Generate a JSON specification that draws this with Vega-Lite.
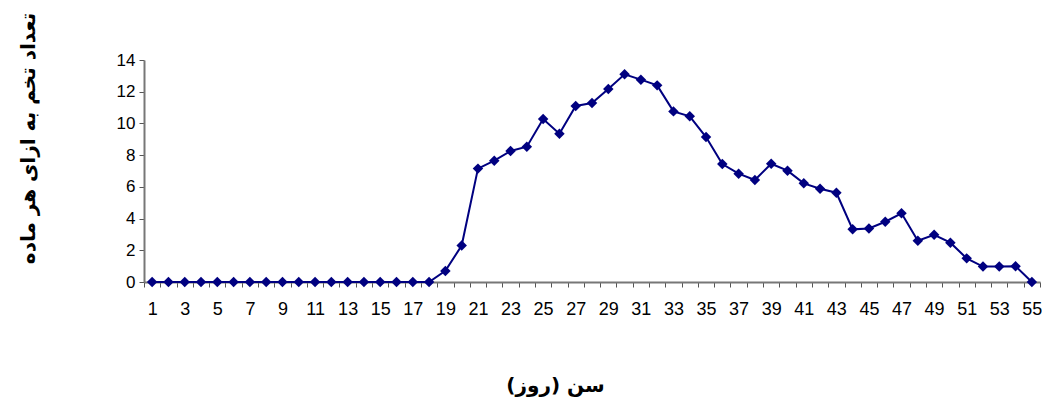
{
  "$schema": "https://vega.github.io/schema/vega-lite/v6.json",
  "width": 896,
  "height": 222,
  "autosize": {"type": "none"},
  "padding": {"left": 144, "top": 60, "right": 2, "bottom": 121},
  "background": "white",
  "config": {"view": {"stroke": null}, "font": "Liberation Sans"},
  "data": {"values": [
    {"day": 1, "eggs": 0}, {"day": 2, "eggs": 0}, {"day": 3, "eggs": 0}, {"day": 4, "eggs": 0},
    {"day": 5, "eggs": 0}, {"day": 6, "eggs": 0}, {"day": 7, "eggs": 0}, {"day": 8, "eggs": 0},
    {"day": 9, "eggs": 0}, {"day": 10, "eggs": 0}, {"day": 11, "eggs": 0}, {"day": 12, "eggs": 0},
    {"day": 13, "eggs": 0}, {"day": 14, "eggs": 0}, {"day": 15, "eggs": 0}, {"day": 16, "eggs": 0},
    {"day": 17, "eggs": 0}, {"day": 18, "eggs": 0}, {"day": 19, "eggs": 0.7}, {"day": 20, "eggs": 2.3},
    {"day": 21, "eggs": 7.15}, {"day": 22, "eggs": 7.65}, {"day": 23, "eggs": 8.26}, {"day": 24, "eggs": 8.53},
    {"day": 25, "eggs": 10.28}, {"day": 26, "eggs": 9.35}, {"day": 27, "eggs": 11.1}, {"day": 28, "eggs": 11.29},
    {"day": 29, "eggs": 12.17}, {"day": 30, "eggs": 13.1}, {"day": 31, "eggs": 12.76}, {"day": 32, "eggs": 12.4},
    {"day": 33, "eggs": 10.76}, {"day": 34, "eggs": 10.45}, {"day": 35, "eggs": 9.14}, {"day": 36, "eggs": 7.44},
    {"day": 37, "eggs": 6.83}, {"day": 38, "eggs": 6.43}, {"day": 39, "eggs": 7.46}, {"day": 40, "eggs": 7.02},
    {"day": 41, "eggs": 6.22}, {"day": 42, "eggs": 5.88}, {"day": 43, "eggs": 5.63}, {"day": 44, "eggs": 3.32},
    {"day": 45, "eggs": 3.38}, {"day": 46, "eggs": 3.8}, {"day": 47, "eggs": 4.33}, {"day": 48, "eggs": 2.6},
    {"day": 49, "eggs": 2.98}, {"day": 50, "eggs": 2.48}, {"day": 51, "eggs": 1.49}, {"day": 52, "eggs": 0.97},
    {"day": 53, "eggs": 0.97}, {"day": 54, "eggs": 0.99}, {"day": 55, "eggs": 0}
  ]},
  "encoding": {
    "x": {
      "field": "day", "type": "ordinal", "sort": null,
      "scale": {"type": "band", "paddingInner": 0, "paddingOuter": 0},
      "axis": {
        "title": "سن (روز)",
        "titleFont": "DejaVu Sans", "titleFontSize": 20, "titleFontWeight": "bold", "titleColor": "black",
        "titleX": 411, "titleY": 103, "titleBaseline": "middle", "titleAnchor": null,
        "labelAngle": 0, "labelFontSize": 18, "labelColor": "black", "labelPadding": 13,
        "labelOverlap": false,
        "labelExpr": "datum.value % 2 == 1 ? datum.label : ''",
        "tickBand": "extent", "tickSize": 5, "tickColor": "#555555",
        "domainColor": "#777777", "domainWidth": 2
      }
    },
    "y": {
      "field": "eggs", "type": "quantitative",
      "scale": {"domain": [0, 14], "nice": false},
      "axis": {
        "title": "تعداد تخم به ازای هر ماده",
        "titleFont": "DejaVu Sans", "titleFontSize": 20, "titleFontWeight": "bold", "titleColor": "black",
        "titleAngle": 270, "titleX": -116, "titleY": 78, "titleBaseline": "middle", "titleAnchor": null,
        "values": [0, 2, 4, 6, 8, 10, 12, 14],
        "grid": false, "labelFontSize": 17, "labelColor": "black", "labelPadding": 4,
        "tickSize": 5, "tickColor": "#555555",
        "domainColor": "#777777", "domainWidth": 2
      }
    }
  },
  "layer": [
    {"mark": {"type": "line", "color": "#000080", "strokeWidth": 2}},
    {"mark": {"type": "point", "shape": "diamond", "filled": true, "color": "#000080", "opacity": 1, "size": 110}}
  ]
}
